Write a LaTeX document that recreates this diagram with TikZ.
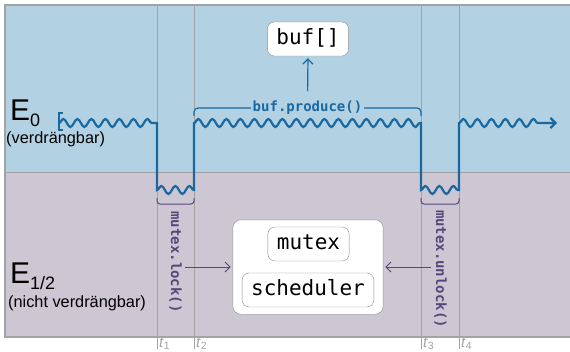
\documentclass[tikz,border=0pt]{standalone}
\usepackage{fontspec}
\setmainfont{Liberation Sans}
\setmonofont{DejaVu Sans Mono}
\usetikzlibrary{arrows, arrows.meta, decorations.pathmorphing, positioning, fit}

\definecolor{upperband}{HTML}{B2D2E4}
\definecolor{lowerband}{HTML}{CDC6D3}
\definecolor{rulegrey}{HTML}{A3A3A3}
\definecolor{waveblue}{HTML}{1A68A0}
\definecolor{callpurple}{HTML}{54477A}

\begin{document}
\begin{tikzpicture}[
            x=1pt, y=-1pt,
            wave/.style={
                draw=waveblue, line width=2.2pt,
                decoration={snake, amplitude=4pt, segment length=14pt}
            },
            barb/.style={-{Straight Barb[length=5pt, width=10pt]}},
            timeline/.style={draw=rulegrey, line width=0.9pt},
            codebox/.style={
                draw=gray!90, fill=white, rounded corners=7pt,
                font=\fontsize{21}{24}\selectfont\ttfamily,
                text height=16pt, text depth=5pt,
                inner xsep=9pt, inner ysep=6.5pt
            },
            callnote/.style={
                font=\fontsize{14}{16}\selectfont\ttfamily\bfseries,
                text=callpurple, inner sep=3pt
            },
            level/.style={font=\fontsize{30}{30}\selectfont, inner sep=0pt, anchor=base west},
            levelnote/.style={font=\fontsize{16.3}{18}\selectfont, inner sep=0pt, anchor=base west}
        ]
        \def\tA{157}
        \def\tB{194}
        \def\tC{421}
        \def\tD{459}
        \def\yHi{123}
        \def\yLo{190}
        \useasboundingbox (0,0) rectangle (570,351);

        % the two levels
        \fill[upperband] (5,5) rectangle (570,172);
        \fill[lowerband] (5,172) rectangle (570,337);
        \draw[rulegrey, line width=1.5pt] (570,5) -- (5,5) -- (5,337) -- (570,337);
        \draw[rulegrey, line width=1pt] (5,172) -- (570,172);

        \foreach \t/\n in {\tA/1, \tB/2, \tC/3, \tD/4} {
            \draw[timeline] (\t,5) -- (\t,349);
            \node[anchor=north west, inner sep=0pt, text=rulegrey, font=\fontsize{15}{15}\selectfont]
                (t\n) at (\t+2,337.5) {\textit{t}\textsubscript{\n}};
        }

        \node[level] (Ezero) at (10,120) {E\raisebox{-0.2em}{\fontsize{18}{18}\selectfont 0}};
        \node[levelnote] (Ezeronote) at (6,143) {(verdrängbar)};
        \node[levelnote] (Ehalfnote) at (8,307) {(nicht verdrängbar)};
        \node[level] (Ehalf) at (10,283) {E\raisebox{-0.2em}{\fontsize{18}{18}\selectfont 1/2}};

        % control flow
        \draw[waveblue, line width=2pt] (63,113) -- (59,113) -- (59,130) -- (63,130);
        \draw[wave, barb] (59,\yHi) decorate {-- (152,\yHi)} -- (\tA,\yHi) -- (\tA,\yLo)
            decorate {-- (\tB,\yLo)} -- (\tB,\yHi)
            decorate {-- (\tC,\yHi)} -- (\tC,\yLo)
            decorate {-- (\tD,\yLo)} -- (\tD,\yHi)
            decorate {-- (540,\yHi)} -- (557,\yHi);

        \draw[waveblue, line width=1.2pt, rounded corners=4pt] (\tB,116) -- (\tB,108) -- (\tC,108) -- (\tC,116);
        \node[fill=upperband, inner sep=2pt, text=waveblue, font=\fontsize{14}{16}\selectfont\ttfamily\bfseries]
            (produce) at (307.5,108) {buf.produce()};
        \node[codebox] (buf) at (308,39) {buf[]};
        \draw[waveblue, line width=1.2pt, barb, shorten <=8pt, shorten >=2pt] (produce.north) -- (buf.south);

        \draw[callpurple, line width=1pt, rounded corners=3pt] (\tA,198) -- (\tA,204) -- (\tB,204) -- (\tB,198);
        \draw[callpurple, line width=1pt, rounded corners=3pt] (\tC,198) -- (\tC,204) -- (\tD,204) -- (\tD,198);
        \node[callnote, rotate=-90] (lock) at (175.5,262) {mutex.lock()};
        \node[callnote, rotate=-90] (unlock) at (440.5,269) {mutex.unlock()};

        \node[codebox] (mutex) at (308.5,244) {mutex};
        \node[codebox] (scheduler) at (308,290) {scheduler};
        \node[draw=gray!90, fill=white, rounded corners=8pt, inner xsep=9pt, inner ysep=7pt,
            fit=(mutex)(scheduler)] (kernel) {};
        \node[codebox] at (mutex) {mutex};
        \node[codebox] at (scheduler) {scheduler};

        \draw[callpurple, line width=1pt, barb, shorten >=2pt] (lock.north |- kernel.west) -- (kernel.west);
        \draw[callpurple, line width=1pt, barb, shorten >=2pt] (unlock.south |- kernel.east) -- (kernel.east);
    \end{tikzpicture}
\end{document}
